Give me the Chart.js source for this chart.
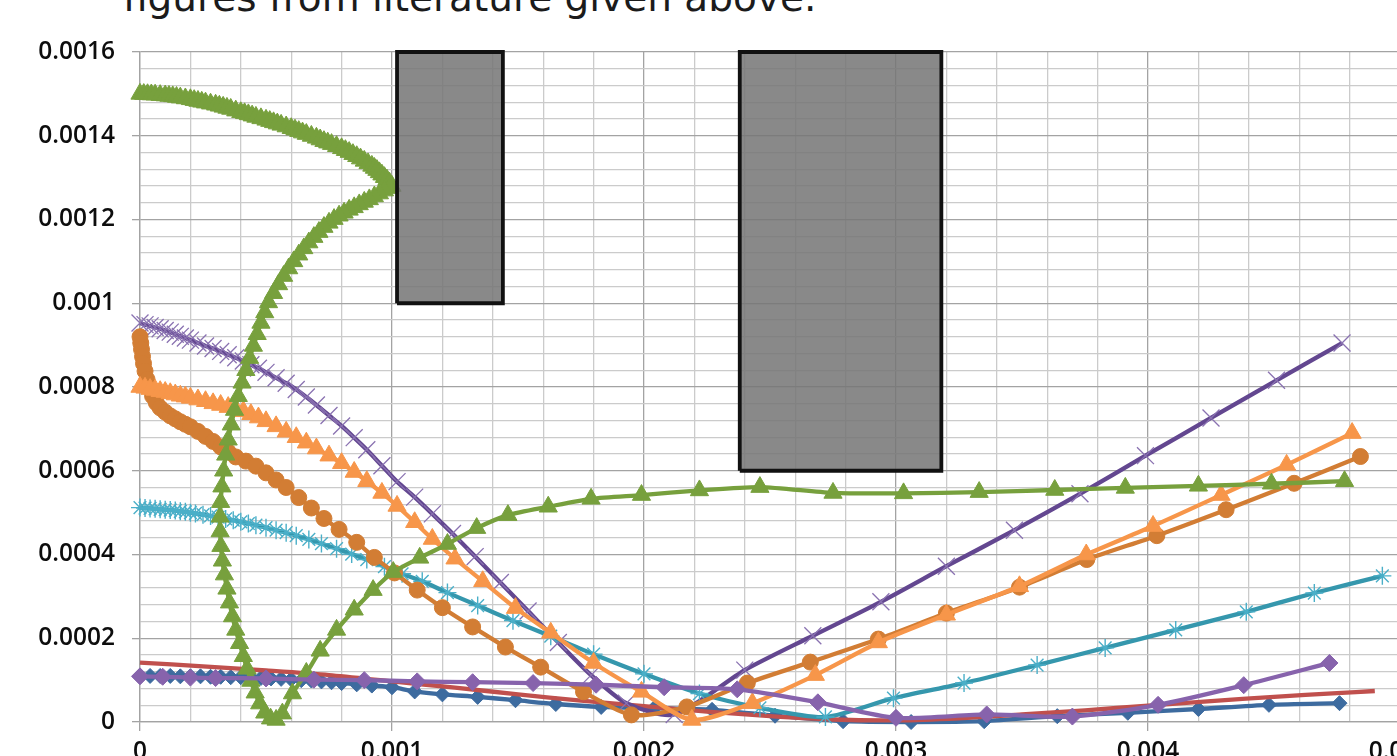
<!DOCTYPE html>
<html>
<head>
<meta charset="utf-8">
<script src="https://cdn.jsdelivr.net/npm/chart.js@4.4.1/dist/chart.umd.min.js"></script>
<style>
  html, body { margin: 0; padding: 0; background: #fff; overflow: hidden; width: 1397px; height: 756px; }
  #caption { position: absolute; left: 123px; top: -22px; font-family: "DejaVu Sans", sans-serif; font-size: 39px; line-height: 39px; color: #1b1b1b; white-space: nowrap; }
  #wrap { position: absolute; left: 0; top: 0; width: 1440px; height: 756px; }
</style>
</head>
<body>
<div id="caption">figures from literature given above.</div>
<div id="wrap"><canvas id="c" width="1440" height="756"></canvas></div>
<script>
// Axis tick labels (major ticks only)
const xTickLabels = ['0', '0.001', '0.002', '0.003', '0.004', '0.005'];
const yTickLabels = ['0', '0.0002', '0.0004', '0.0006', '0.0008', '0.001', '0.0012', '0.0014', '0.0016'];

// Blue diamonds
const blueX = [0, 0.00004, 0.00008, 0.00012, 0.00016, 0.0002, 0.00024, 0.00028, 0.00032, 0.00036, 0.0004, 0.00044, 0.00048, 0.00052, 0.00056, 0.0006, 0.00064, 0.00068, 0.00072, 0.00076, 0.0008, 0.00086, 0.00092, 0.001, 0.00109, 0.0012, 0.00134, 0.00149, 0.00165, 0.00183, 0.00204, 0.00227, 0.00252, 0.00279, 0.00306, 0.00335, 0.00364, 0.00392, 0.0042, 0.00448, 0.00476];
const blueY = [0.000110, 0.000110, 0.000110, 0.000110, 0.000109, 0.000109, 0.000109, 0.000108, 0.000108, 0.000107, 0.000107, 0.000106, 0.000105, 0.000104, 0.000103, 0.000102, 0.000100, 0.000099, 0.000097, 0.000095, 0.000093, 0.000090, 0.000087, 0.000083, 0.000073, 0.000066, 0.000060, 0.000052, 0.000043, 0.000036, 0.000033, 0.000029, 0.000015, 0.000002, 0.000000, 0.000002, 0.000014, 0.000022, 0.000031, 0.000041, 0.000045];

// Red line (no markers)
const redX = [0, 0.00025, 0.0005, 0.00075, 0.001, 0.00125, 0.0015, 0.00175, 0.002, 0.00225, 0.0025, 0.00275, 0.003, 0.00325, 0.0035, 0.00375, 0.004, 0.00425, 0.0045, 0.00475, 0.0049];
const redY = [0.000142, 0.000133, 0.000123, 0.000112, 0.000097, 0.000082, 0.000066, 0.000051, 0.000038, 0.000025, 0.000014, 0.000006, 0.000004, 0.000009, 0.000018, 0.000028, 0.000039, 0.000050, 0.000060, 0.000069, 0.000074];

// Green triangles: upper arc, fold-back branch, then the long plateau
const greenX = [
  0, 0.000015, 0.00003, 0.000045, 0.00006, 0.00008, 0.0001, 0.000115, 0.00013, 0.000145, 0.00016, 0.00018, 0.0002, 0.000215, 0.00023, 0.000245, 0.00026, 0.00028, 0.0003, 0.000315, 0.00033, 0.000345, 0.00036, 0.00038, 0.0004, 0.000415, 0.00043, 0.000445, 0.00046, 0.00048, 0.0005, 0.000515, 0.00053, 0.000545, 0.00056, 0.00058, 0.0006, 0.000615, 0.00063, 0.000645, 0.00066, 0.00068, 0.0007, 0.000715, 0.00073, 0.000745, 0.00076, 0.00078, 0.0008, 0.000815, 0.00083, 0.000845, 0.00086, 0.000875, 0.00089, 0.000905, 0.00092, 0.00093, 0.00094, 0.00095, 0.00096, 0.00097, 0.00098, 0.00099, 0.001,
  0.00099, 0.00097, 0.00095, 0.00093, 0.00091, 0.00089, 0.00087, 0.00085, 0.00083, 0.00081, 0.00079, 0.00077, 0.00075, 0.00073, 0.00071, 0.00069, 0.00067, 0.00065, 0.00063, 0.00061, 0.00059, 0.00057, 0.00055, 0.00053, 0.00051, 0.000495, 0.00048, 0.000465, 0.00045, 0.000435, 0.00042, 0.000405, 0.00039, 0.000375, 0.000362, 0.00035, 0.00034, 0.000332, 0.000325, 0.00032, 0.000318, 0.000318, 0.000321, 0.000327, 0.000335, 0.000345, 0.000355, 0.000367, 0.00038, 0.000395, 0.00041, 0.000425, 0.00044, 0.000457, 0.000475, 0.000495, 0.000518, 0.00054,
  0.000565, 0.000605, 0.00066, 0.000715, 0.00078, 0.00085, 0.000925, 0.001005, 0.00111, 0.00122, 0.001336, 0.00146, 0.00162, 0.00179, 0.00199, 0.00222, 0.00246, 0.00275, 0.00303, 0.00333, 0.00363, 0.00391, 0.0042, 0.00449, 0.00478];
const greenY = [
  0.001500, 0.0014995, 0.001499, 0.0014985, 0.001498, 0.001497, 0.001496, 0.001495, 0.001494, 0.0014925, 0.001491, 0.001489, 0.001487, 0.001485, 0.001483, 0.001481, 0.001479, 0.0014765, 0.001474, 0.0014715, 0.001469, 0.0014665, 0.001464, 0.001460, 0.001456, 0.0014535, 0.001451, 0.001448, 0.001445, 0.0014415, 0.001438, 0.001435, 0.001432, 0.001429, 0.001426, 0.001422, 0.001418, 0.0014145, 0.001411, 0.0014075, 0.001404, 0.0013995, 0.001395, 0.001391, 0.001387, 0.0013835, 0.001380, 0.001375, 0.001370, 0.0013655, 0.001361, 0.001356, 0.001351, 0.0013455, 0.001340, 0.001334, 0.001328, 0.001323, 0.001318, 0.0013125, 0.001307, 0.001301, 0.001295, 0.001288, 0.001280,
  0.001275, 0.001269, 0.001262, 0.001255, 0.001248, 0.001242, 0.001236, 0.001229, 0.001223, 0.001216, 0.001209, 0.001201, 0.001192, 0.001182, 0.001170, 0.001158, 0.001145, 0.001131, 0.001116, 0.001100, 0.001083, 0.001065, 0.001045, 0.001024, 0.001002, 0.000978, 0.000953, 0.000926, 0.000898, 0.000869, 0.000840, 0.000810, 0.000778, 0.000745, 0.000710, 0.000674, 0.000638, 0.000600, 0.000562, 0.000525, 0.000490, 0.000455, 0.000420, 0.000385, 0.000352, 0.000318, 0.000285, 0.000252, 0.000220, 0.000188, 0.000157, 0.000127, 0.000098, 0.000070, 0.000044, 0.000022, 0.000008, 0.000005,
  0.000020, 0.000068, 0.000117, 0.000170, 0.000220, 0.000268, 0.000315, 0.000358, 0.000392, 0.000425, 0.000463, 0.000494, 0.000514, 0.000533, 0.000542, 0.000553, 0.000561, 0.000547, 0.000546, 0.000549, 0.000554, 0.000559, 0.000564, 0.000569, 0.000575];

// Dark purple with x markers
const violetX = [0, 0.00002, 0.00004, 0.00006, 0.00008, 0.0001, 0.00012, 0.00014, 0.00016, 0.00018, 0.0002, 0.00023, 0.00026, 0.00029, 0.00032, 0.00035, 0.00038, 0.00041, 0.00044, 0.00047, 0.0005, 0.00054, 0.00058, 0.00062, 0.00066, 0.0007, 0.00075, 0.0008, 0.00085, 0.0009, 0.00096, 0.00102, 0.00109, 0.00116, 0.00124, 0.00133, 0.00143, 0.00154, 0.00166, 0.00179, 0.00193, 0.00212, 0.0024, 0.00267, 0.00294, 0.0032, 0.00347, 0.00373, 0.00399, 0.00425, 0.00451, 0.00477];
const violetY = [0.000953, 0.000949, 0.000946, 0.000942, 0.000939, 0.000935, 0.000931, 0.000926, 0.000921, 0.000917, 0.000912, 0.000905, 0.000898, 0.000892, 0.000885, 0.000877, 0.000870, 0.000862, 0.000853, 0.000845, 0.000835, 0.000822, 0.000809, 0.000794, 0.000776, 0.000757, 0.000732, 0.000707, 0.000679, 0.000650, 0.000612, 0.000574, 0.000537, 0.000497, 0.000450, 0.000395, 0.000333, 0.000265, 0.000190, 0.000112, 0.000045, 0.000018, 0.000124, 0.000206, 0.000287, 0.000372, 0.000458, 0.000545, 0.000636, 0.000726, 0.000816, 0.000905];

// Teal with asterisk markers
const tealX = [0, 0.00002, 0.00004, 0.00006, 0.00008, 0.0001, 0.00012, 0.00014, 0.00016, 0.00018, 0.0002, 0.00022, 0.00025, 0.00028, 0.00031, 0.00034, 0.00037, 0.0004, 0.00043, 0.00046, 0.0005, 0.00054, 0.00058, 0.00062, 0.00067, 0.00072, 0.00078, 0.00084, 0.0009, 0.00097, 0.00104, 0.00112, 0.00122, 0.00134, 0.00148, 0.00163, 0.0018, 0.002, 0.00222, 0.00246, 0.00272, 0.00299, 0.00327, 0.00356, 0.00383, 0.00411, 0.00439, 0.00466, 0.00493];
const tealY = [0.000512, 0.000511, 0.000510, 0.000509, 0.000508, 0.000507, 0.000506, 0.000505, 0.000503, 0.000502, 0.000500, 0.000498, 0.000495, 0.000492, 0.000489, 0.000485, 0.000482, 0.000478, 0.000474, 0.000470, 0.000464, 0.000458, 0.000452, 0.000445, 0.000436, 0.000426, 0.000414, 0.000401, 0.000388, 0.000371, 0.000354, 0.000336, 0.000309, 0.000278, 0.000242, 0.000205, 0.000162, 0.000115, 0.000068, 0.000034, 0.000012, 0.000057, 0.000093, 0.000136, 0.000177, 0.000220, 0.000263, 0.000308, 0.000349];

// Orange triangles
const amberX = [0, 0.00002, 0.00004, 0.00006, 0.00008, 0.0001, 0.00012, 0.00014, 0.00016, 0.00018, 0.0002, 0.00023, 0.00026, 0.00029, 0.00032, 0.00035, 0.00038, 0.00041, 0.00044, 0.00047, 0.0005, 0.00054, 0.00058, 0.00062, 0.00066, 0.0007, 0.00075, 0.0008, 0.00085, 0.0009, 0.00096, 0.00102, 0.00109, 0.00116, 0.00125, 0.00136, 0.00149, 0.00163, 0.0018, 0.00199, 0.00219, 0.00243, 0.00268, 0.00293, 0.0032, 0.00349, 0.003755, 0.00402, 0.00429, 0.00455, 0.00481];
const amberY = [0.000800, 0.000798, 0.000795, 0.000793, 0.000790, 0.000788, 0.000785, 0.000782, 0.000779, 0.000777, 0.000774, 0.000770, 0.000766, 0.000761, 0.000757, 0.000752, 0.000747, 0.000742, 0.000735, 0.000727, 0.000718, 0.000706, 0.000693, 0.000680, 0.000667, 0.000653, 0.000636, 0.000618, 0.000597, 0.000575, 0.000547, 0.000516, 0.000477, 0.000437, 0.000390, 0.000336, 0.000272, 0.000213, 0.000141, 0.000072, 0.000005, 0.000045, 0.000112, 0.000190, 0.000256, 0.000324, 0.000400, 0.000468, 0.000542, 0.000614, 0.000690];

// Dark orange circles
const copperX = [0, 0.000003, 0.000006, 0.00001, 0.000014, 0.00002, 0.000028, 0.000038, 0.00005, 0.000065, 0.00008, 0.0001, 0.00012, 0.00014, 0.00016, 0.00018, 0.0002, 0.00023, 0.00026, 0.00029, 0.00032, 0.00035, 0.00038, 0.00042, 0.00046, 0.0005, 0.00054, 0.00058, 0.00063, 0.00068, 0.00073, 0.00079, 0.00086, 0.00093, 0.00101, 0.0011, 0.0012, 0.00132, 0.00145, 0.00159, 0.00176, 0.00195, 0.00217, 0.00241, 0.00266, 0.00293, 0.0032, 0.00349, 0.003757, 0.004035, 0.00431, 0.00458, 0.004843];
const copperY = [0.000920, 0.000905, 0.000890, 0.000873, 0.000856, 0.000838, 0.000818, 0.000798, 0.000778, 0.000762, 0.000750, 0.000740, 0.000731, 0.000724, 0.000717, 0.000711, 0.000705, 0.000694, 0.000682, 0.000670, 0.000657, 0.000645, 0.000633, 0.000623, 0.000611, 0.000595, 0.000578, 0.000560, 0.000536, 0.000511, 0.000486, 0.000460, 0.000429, 0.000393, 0.000356, 0.000315, 0.000273, 0.000227, 0.000179, 0.000131, 0.000072, 0.000017, 0.000036, 0.000093, 0.000143, 0.000198, 0.000260, 0.000322, 0.000388, 0.000445, 0.000507, 0.000570, 0.000634];

// Light purple diamonds
const plumX = [0, 0.00009, 0.0002, 0.0003, 0.0005, 0.00069, 0.00089, 0.0011, 0.00132, 0.00156, 0.00181, 0.00208, 0.00237, 0.00269, 0.003, 0.00336, 0.0037, 0.00404, 0.00438, 0.00472];
const plumY = [0.000109, 0.000108, 0.000106, 0.000105, 0.000104, 0.000101, 0.000100, 0.000097, 0.000095, 0.000093, 0.000089, 0.000083, 0.000078, 0.000047, 0.000010, 0.000018, 0.000013, 0.000041, 0.000088, 0.000141];

// Shaded zones (x from/to, y from/to)
const zoneLeft   = [0.00102, 0.00238];
const zoneRight  = [0.00144, 0.00318];
const zoneBottom = [0.001, 0.0006];
const zoneTop    = [0.0016, 0.0016];

const X_MAJOR = 0.001, Y_MAJOR = 0.0002;
const MAJOR_GRID = '#a3a3a3', MINOR_GRID = '#cbcbcb';

function pts(xs, ys) { return xs.map((x, i) => ({ x: x, y: ys[i] })); }
function majorIndex(v, step) {
  const k = Math.round(v / step);
  return Math.abs(v - k * step) < step * 1e-6 ? k : -1;
}

function series(xs, ys, o) {
  return Object.assign({
    data: pts(xs, ys),
    showLine: true,
    tension: 0.25,
    borderWidth: 4.3,
    pointBorderWidth: 1,
    clip: false,
  }, o);
}

// Each zone: a filled top edge down to its bottom value, plus a closed outline on top
const zoneSets = [];
zoneLeft.forEach((l, i) => {
  const r = zoneRight[i], b = zoneBottom[i], t = zoneTop[i];
  zoneSets.push({
    data: pts([l, l, r, r, l], [b, t, t, b, b]),
    showLine: true, tension: 0,
    borderColor: '#111111', borderWidth: 3.8, borderJoinStyle: 'miter',
    fill: false, pointRadius: 0, clip: false, order: 0,
  });
  zoneSets.push({
    data: pts([l, r], [t, t]),
    showLine: true, tension: 0,
    borderWidth: 0, borderColor: 'rgba(0,0,0,0)',
    backgroundColor: 'rgba(118,118,118,0.86)',
    fill: { value: b }, pointRadius: 0, clip: false, order: 0.5,
  });
});

const datasets = [
  ...zoneSets,
  series(plumX, plumY, { borderColor: '#8763ac', pointStyle: 'rectRot', pointRadius: 8.5, pointBackgroundColor: '#8763ac', pointBorderColor: '#8763ac', order: 1 }),
  series(greenX, greenY, { borderColor: '#77a03d', pointStyle: 'triangle', pointRadius: 10.5, pointBackgroundColor: '#77a03d', pointBorderColor: '#77a03d', order: 2 }),
  series(amberX, amberY, { borderColor: '#f7964a', pointStyle: 'triangle', pointRadius: 10.5, pointBackgroundColor: '#f7964a', pointBorderColor: '#f7964a', order: 3 }),
  series(copperX, copperY, { borderColor: '#d27d34', pointStyle: 'circle', pointRadius: 8, pointBackgroundColor: '#d27d34', pointBorderColor: '#d27d34', order: 4 }),
  series(tealX, tealY, { borderColor: '#3597ad', pointStyle: 'star', pointRadius: 9, pointBorderWidth: 1.4, pointBackgroundColor: '#4aafc8', pointBorderColor: '#4aafc8', order: 5 }),
  series(violetX, violetY, { borderColor: '#634790', pointStyle: 'crossRot', pointRadius: 12, pointBorderWidth: 1.3, pointBackgroundColor: '#8a72b1', pointBorderColor: '#8a72b1', order: 6 }),
  series(redX, redY, { borderColor: '#c0504d', pointRadius: 0, order: 7 }),
  series(blueX, blueY, { borderColor: '#3d6b9f', pointStyle: 'rectRot', pointRadius: 7.5, pointBackgroundColor: '#3d6b9f', pointBorderColor: '#3d6b9f', order: 8 }),
];

const tickFont = { family: '"Open Sans", Lato, sans-serif', size: 24.5, weight: 600 };

new Chart(document.getElementById('c'), {
  type: 'scatter',
  data: { datasets: datasets },
  options: {
    responsive: false,
    animation: false,
    devicePixelRatio: 1,
    layout: { padding: { left: 0, right: 40, top: 52, bottom: 0 } },
    plugins: { legend: { display: false }, tooltip: { enabled: false } },
    scales: {
      x: {
        type: 'linear', min: 0, max: 0.005,
        afterFit: (s) => { s.height = 34; },
        ticks: {
          stepSize: 0.0002, autoSkip: false, maxRotation: 0, padding: 6,
          color: '#0d0d0d', font: tickFont,
          callback: (v) => { const k = majorIndex(v, X_MAJOR); return k >= 0 ? xTickLabels[k] : ''; },
        },
        grid: {
          color: (c) => (c.tick && majorIndex(c.tick.value, X_MAJOR) >= 0) ? MAJOR_GRID : MINOR_GRID,
          lineWidth: 1.3,
          tickLength: 9,
          tickColor: (c) => (c.tick && majorIndex(c.tick.value, X_MAJOR) >= 0) ? MAJOR_GRID : 'rgba(0,0,0,0)',
        },
        border: { display: true, color: MAJOR_GRID, width: 1.3 },
      },
      y: {
        type: 'linear', min: 0, max: 0.0016,
        afterFit: (s) => { s.width = 140; },
        ticks: {
          stepSize: 0.00004, autoSkip: false, padding: 17,
          color: '#0d0d0d', font: tickFont,
          callback: (v) => { const k = majorIndex(v, Y_MAJOR); return k >= 0 ? yTickLabels[k] : ''; },
        },
        grid: {
          color: (c) => (c.tick && majorIndex(c.tick.value, Y_MAJOR) >= 0) ? MAJOR_GRID : MINOR_GRID,
          lineWidth: 1.3,
          tickLength: 8,
          tickColor: (c) => (c.tick && majorIndex(c.tick.value, Y_MAJOR) >= 0) ? MAJOR_GRID : 'rgba(0,0,0,0)',
        },
        border: { display: true, color: MAJOR_GRID, width: 1.3 },
      },
    },
  },
});
</script>
</body>
</html>
